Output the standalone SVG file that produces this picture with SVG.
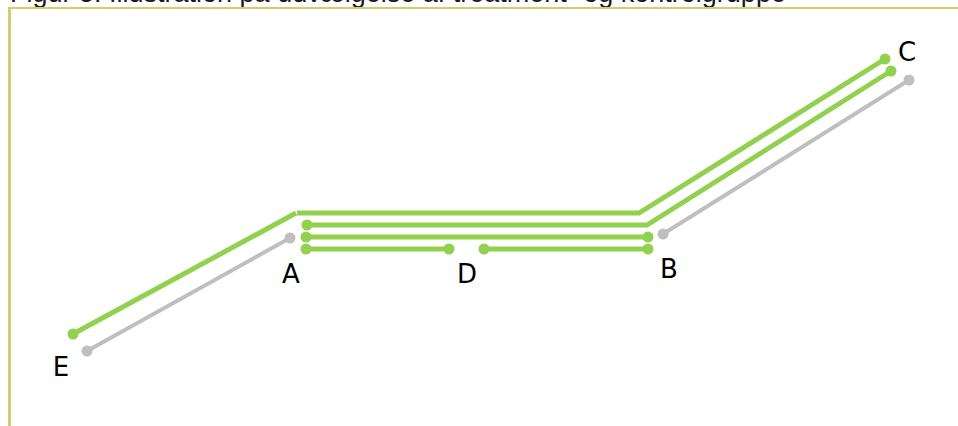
<svg xmlns="http://www.w3.org/2000/svg" width="958" height="426" viewBox="0 0 958 426">
  <style>
    .title { font-family: "Liberation Sans", Arial, sans-serif; font-size: 27px; fill: #1a1a1a; }
    .lbl { font-family: "DejaVu Sans", Verdana, sans-serif; font-size: 26px; fill: #000; text-anchor: middle; }
    .g { fill: none; stroke: #92d050; stroke-width: 5; stroke-linejoin: miter; }
    .s { fill: none; stroke: #bfbfbf; stroke-width: 4; }
    .gd { fill: #92d050; }
    .sd { fill: #bfbfbf; }
  </style>

  <rect width="958" height="426" fill="#ffffff"/>

  <!-- caption, running off the top edge -->
  <text class="title" x="10" y="2">Figur 5: Illustration på udvælgelse af treatment- og kontrolgruppe</text>

  <!-- frame -->
  <g id="frame" fill="#d3ce6b">
    <rect x="8" y="7" width="950" height="2"/>
    <rect x="8" y="7" width="3" height="419"/>
  </g>

  <g id="connectors">
    <!-- E to A to B to C, treatment route -->
    <path class="g" d="M73,334 L296,213"/>
    <path class="g" d="M297,213 L639,213 L885,59"/>
    <circle class="gd" cx="73" cy="334" r="5.5"/>
    <circle class="gd" cx="885" cy="59" r="5.5"/>

    <!-- A to B to C -->
    <path class="g" d="M307,225 L647,225 L891,71"/>
    <circle class="gd" cx="307" cy="225" r="5.5"/>
    <circle class="gd" cx="891" cy="71" r="5.5"/>

    <!-- A to B -->
    <path class="g" d="M306,237 L648,237"/>
    <circle class="gd" cx="306" cy="237" r="5.5"/>
    <circle class="gd" cx="648" cy="237" r="5.5"/>

    <!-- A to D, D to B -->
    <path class="g" d="M306,249 L449,249"/>
    <circle class="gd" cx="306" cy="249" r="5.5"/>
    <circle class="gd" cx="449" cy="249" r="5.5"/>
    <path class="g" d="M484,249 L648,249"/>
    <circle class="gd" cx="484" cy="249" r="5.5"/>
    <circle class="gd" cx="648" cy="249" r="5.5"/>

    <!-- control routes -->
    <path class="s" d="M87,351 L290,238"/>
    <circle class="sd" cx="87" cy="351" r="5.5"/>
    <circle class="sd" cx="290" cy="238" r="5.5"/>
    <path class="s" d="M663,234 L909,80"/>
    <circle class="sd" cx="663" cy="234" r="5.5"/>
    <circle class="sd" cx="909" cy="80" r="5.5"/>
  </g>

  <g id="node-A"><text class="lbl" x="291" y="283">A</text></g>
  <g id="node-D"><text class="lbl" x="467" y="283">D</text></g>
  <g id="node-B"><text class="lbl" x="669" y="278">B</text></g>
  <g id="node-C"><text class="lbl" x="907" y="61">C</text></g>
  <g id="node-E"><text class="lbl" x="61" y="376">E</text></g>
</svg>
